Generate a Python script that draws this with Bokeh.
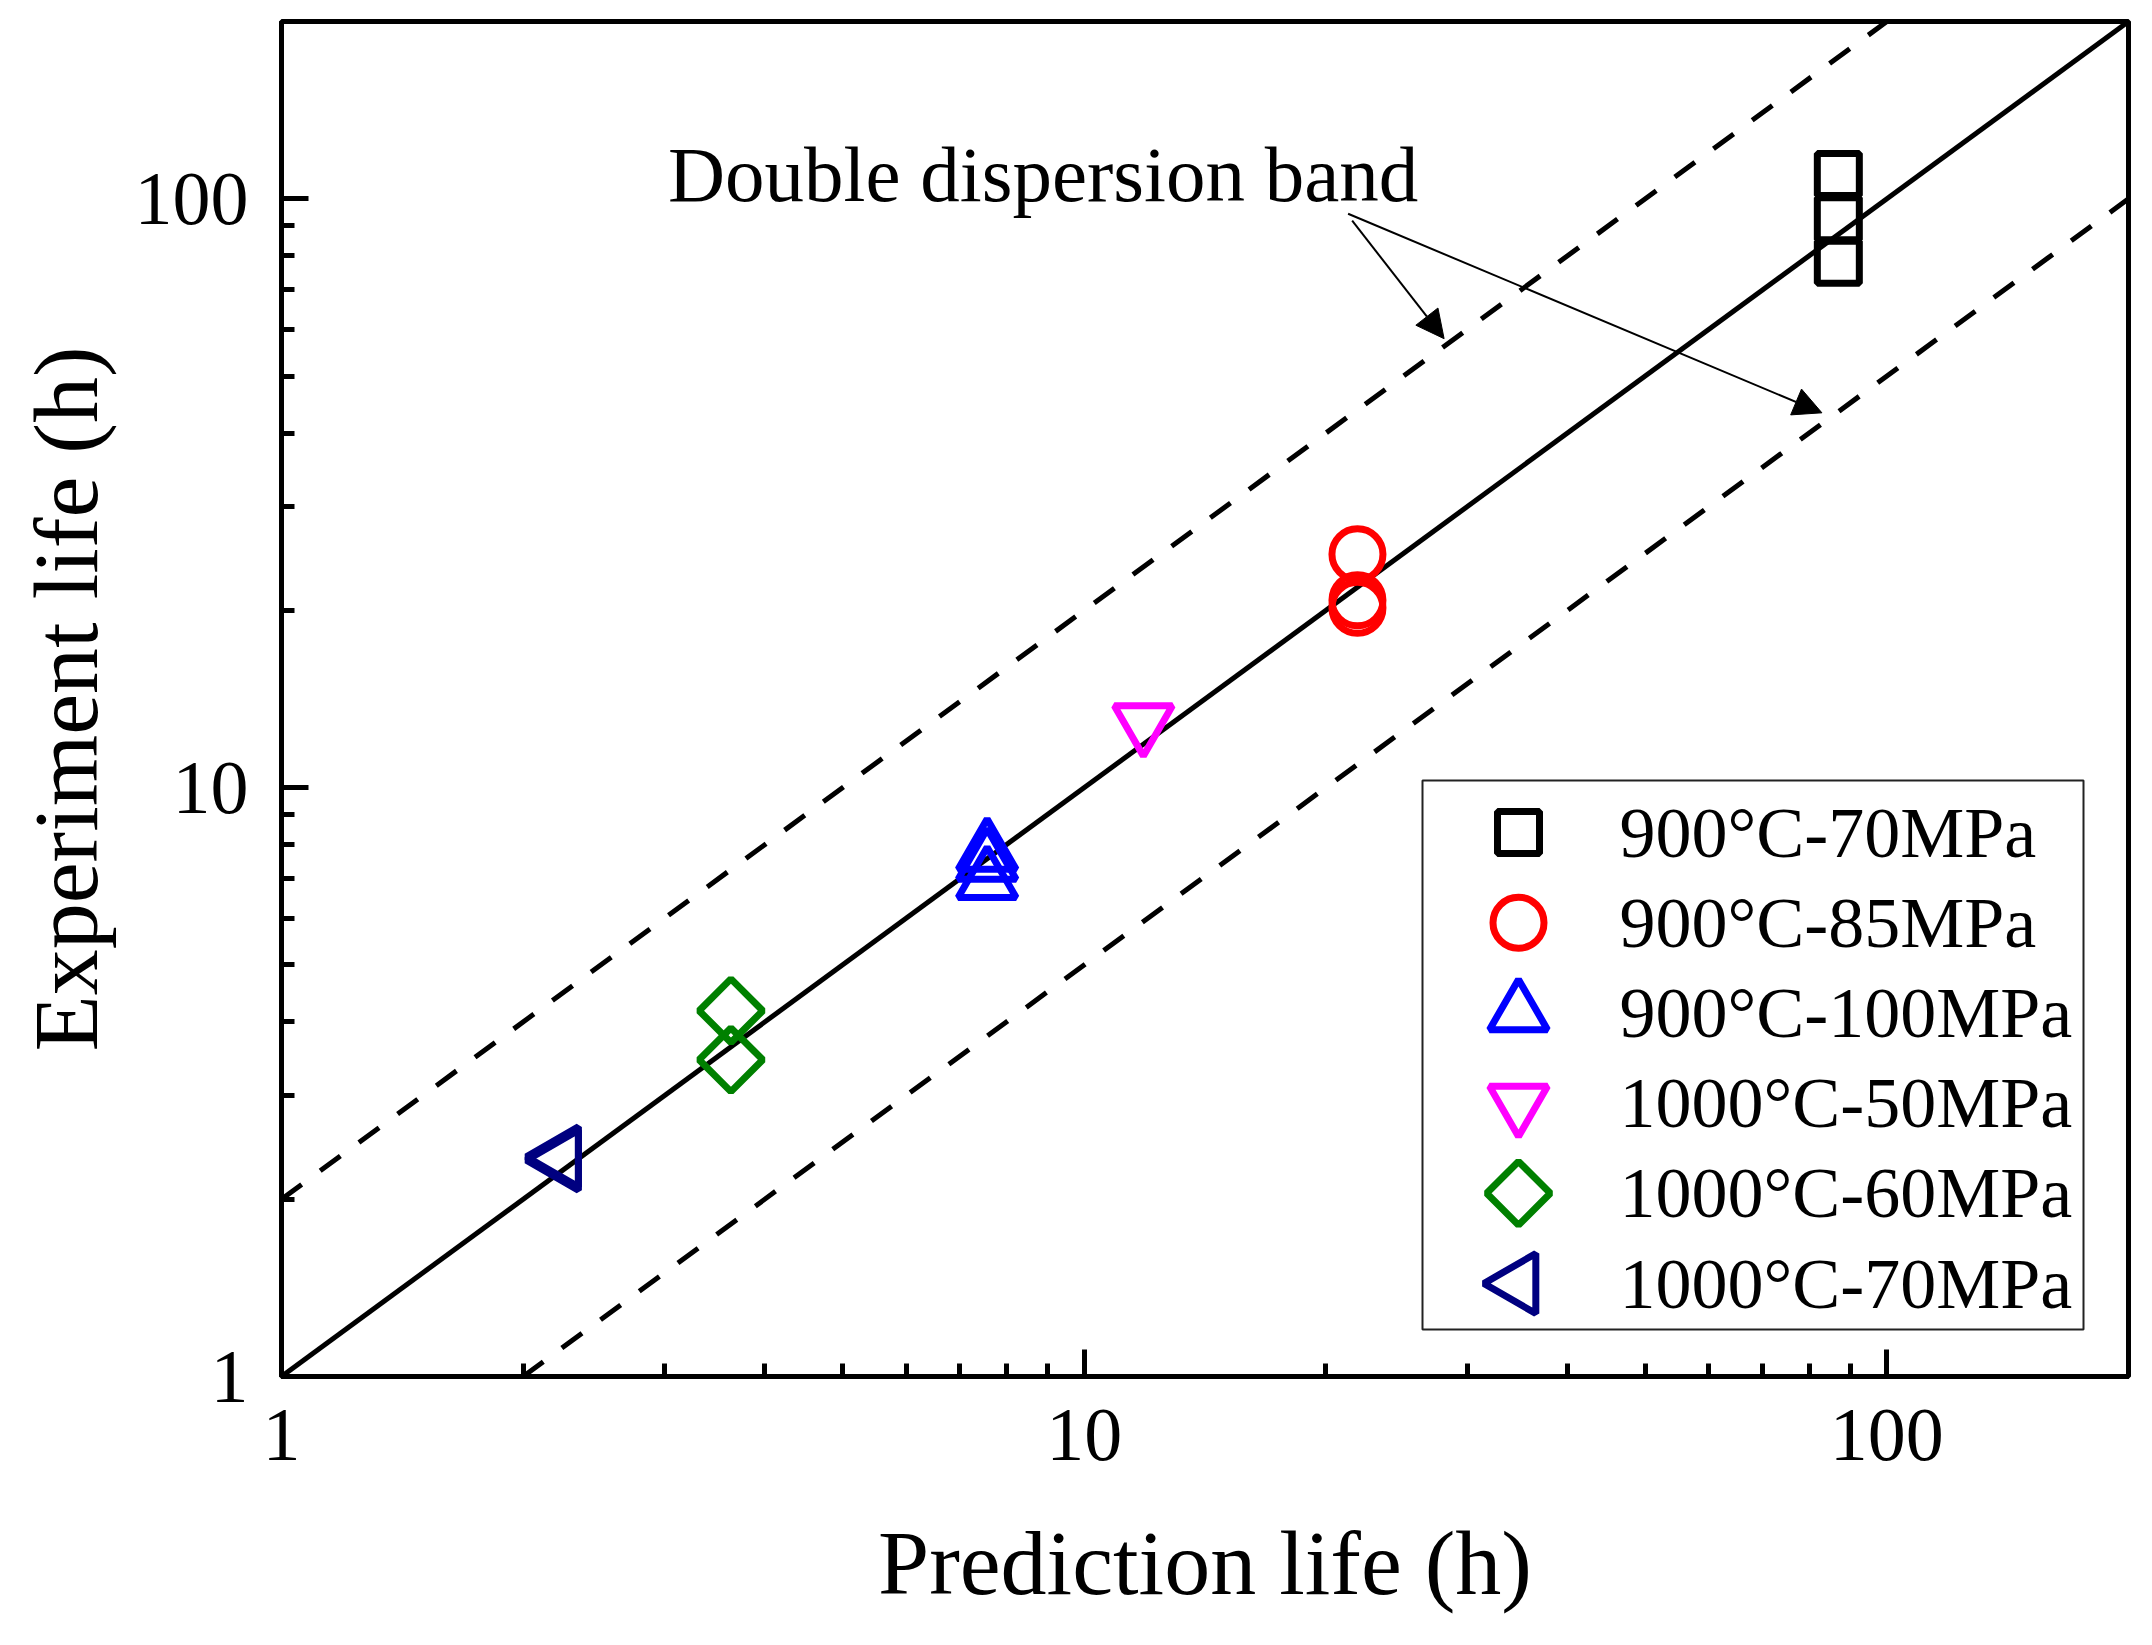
from bokeh.plotting import figure
from bokeh.models import Arrow, NormalHead, FixedTicker, BasicTickFormatter, Range1d, LinearScale
from bokeh.core.properties import value
from bokeh.embed import file_html
from bokeh.resources import INLINE

# creep life: prediction vs experiment (h)
pred_900_70 = [87, 87, 87]
exp_900_70 = [110, 92.5, 78]

pred_900_85 = [21.9, 21.9, 21.9]
exp_900_85 = [24.9, 20.8, 20.2]

pred_900_100 = [7.57, 7.57, 7.57]
exp_900_100 = [7.76, 7.46, 6.95]

pred_1000_50 = [11.85]
exp_1000_50 = [12.9]

pred_1000_60 = [3.63, 3.63]
exp_1000_60 = [4.18, 3.45]

pred_1000_70 = [2.23, 2.23]
exp_1000_70 = [2.36, 2.33]

# reference lines: 1:1 and the factor-of-two band
diag_x = [1, 200]
diag_y = [1, 200]
upper_x = [1, 100]
upper_y = [2, 200]
lower_x = [2, 200]
lower_y = [1, 100]

major_ticks = [1, 10, 100]
minor_ticks = [2, 3, 4, 5, 6, 7, 8, 9, 20, 30, 40, 50, 60, 70, 80, 90]

band_text = "Double dispersion band"
band_text_x = [3.03]
band_text_y = [110]
arrow_start = [(21.57, 91.8), (21.32, 94.3)]
arrow_end = [(28.08, 57.86), (83.0, 43.3)]

legend_labels = ["900°C-70MPa", "900°C-85MPa", "900°C-100MPa",
                 "1000°C-50MPa", "1000°C-60MPa", "1000°C-70MPa"]

FONT = "Liberation Serif"
FRAME_W, FRAME_H = 1847, 1355

p = figure(
    width=2140, height=1640,
    x_axis_type="log", y_axis_type="log",
    x_range=(1, 200), y_range=(1, 200),
    output_backend="svg", toolbar_location=None,
    min_border_left=281, min_border_right=12,
    min_border_top=21, min_border_bottom=264,
    x_axis_label="Prediction life (h)",
    y_axis_label="Experiment life (h)",
)
p.grid.visible = False
p.outline_line_color = "black"
p.outline_line_width = 5

for ax in (p.xaxis[0], p.yaxis[0]):
    ax.ticker = FixedTicker(ticks=major_ticks, minor_ticks=minor_ticks)
    ax.formatter = BasicTickFormatter()
    ax.axis_line_width = 5
    ax.major_tick_line_width = 5
    ax.minor_tick_line_width = 5
    ax.major_tick_in = 27
    ax.major_tick_out = 0
    ax.minor_tick_in = 13
    ax.minor_tick_out = 0
    ax.major_label_text_font = FONT
    ax.major_label_text_font_size = "76px"
    ax.major_label_text_color = "black"
    ax.axis_label_text_font = FONT
    ax.axis_label_text_font_size = "92px"
    ax.axis_label_text_font_style = "normal"
    ax.axis_label_text_color = "black"
p.xaxis.major_label_standoff = 33
p.yaxis.major_label_standoff = 33
p.xaxis.axis_label_standoff = 49
p.yaxis.axis_label_standoff = 15

p.line(diag_x, diag_y, line_color="black", line_width=5)
p.line(upper_x, upper_y, line_color="black", line_width=5, line_dash="25 23")
p.line(lower_x, lower_y, line_color="black", line_width=5, line_dash="25 23")

# series styles, shared by the data marks and the legend keys
styles = [
    dict(marker="square", size=42, angle=0.0, color="black"),
    dict(marker="circle", size=51, angle=0.0, color="red"),
    dict(marker="triangle", size=58, angle=0.0, color="blue"),
    dict(marker="inverted_triangle", size=58, angle=0.0, color="magenta"),
    dict(marker="square", size=45, angle=0.785398, color="green"),
    dict(marker="triangle", size=60, angle=1.570796, color="navy"),
]
series = [
    (pred_900_70, exp_900_70), (pred_900_85, exp_900_85), (pred_900_100, exp_900_100),
    (pred_1000_50, exp_1000_50), (pred_1000_60, exp_1000_60), (pred_1000_70, exp_1000_70),
]
lw = 7
for (xs, ys), st in zip(series, styles):
    p.scatter(xs, ys, marker=st["marker"], size=st["size"], angle=st["angle"],
              fill_color=None, line_color=st["color"], line_width=lw)

p.text(band_text_x, band_text_y, text=[band_text], text_font=value(FONT),
       text_font_size="79px", text_color="black", text_baseline="alphabetic")
for (x0, y0), (x1, y1) in zip(arrow_start, arrow_end):
    p.add_layout(Arrow(x_start=x0, y_start=y0, x_end=x1, y_end=y1,
                       line_color="black", line_width=2,
                       end=NormalHead(size=28, fill_color="black", line_color="black")))

# legend drawn in frame pixel space so the rotated keys keep their angle
p.extra_x_ranges = {"px": Range1d(0, FRAME_W)}
p.extra_y_ranges = {"px": Range1d(0, FRAME_H)}
p.extra_x_scales = {"px": LinearScale()}
p.extra_y_scales = {"px": LinearScale()}

p.quad(left=[1141], right=[1802], top=[596], bottom=[47],
       fill_color="white", line_color="#222222", line_width=2,
       x_range_name="px", y_range_name="px")
row_y = [544 - 90.2 * i for i in range(len(legend_labels))]
for yy, st in zip(row_y, styles):
    p.scatter([1237], [yy], marker=st["marker"], size=st["size"], angle=st["angle"],
              fill_color=None, line_color=st["color"], line_width=lw,
              x_range_name="px", y_range_name="px")
p.text([1338] * len(legend_labels), row_y, text=legend_labels, text_font=value(FONT),
       text_font_size="72px", text_color="black", text_baseline="middle",
       x_range_name="px", y_range_name="px")

open("out.html", "w").write(file_html(p, INLINE))
